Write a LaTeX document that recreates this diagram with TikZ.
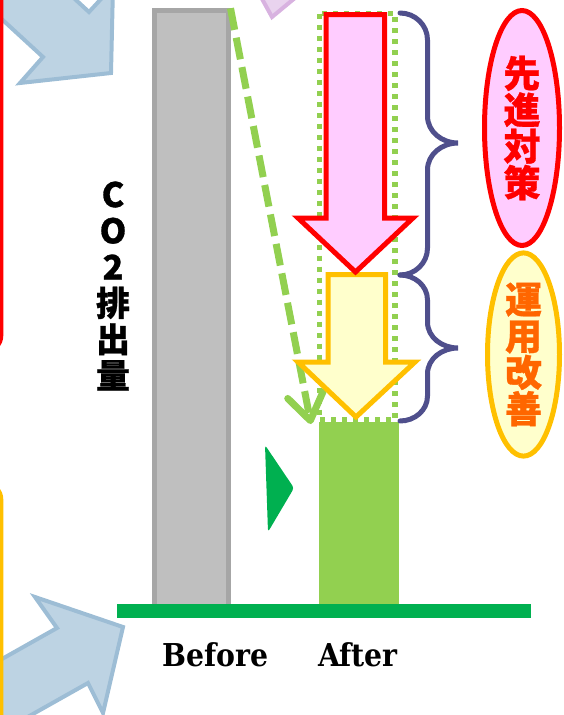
\documentclass[tikz,border=0pt]{standalone}
\usepackage{fontspec}
\newfontfamily\cjk{Noto Sans CJK JP}[FakeBold=0.8]
\newfontfamily\labelfont{DejaVu Serif Condensed}
\usetikzlibrary{arrows.meta,positioning,shapes.geometric}

\definecolor{framered}{HTML}{FF0000}
\definecolor{frameyellow}{HTML}{FFC000}
\definecolor{bluefill}{HTML}{BDD3E3}
\definecolor{blueline}{HTML}{9DBDD5}
\definecolor{lilacfill}{HTML}{E9D3EE}
\definecolor{lilacline}{HTML}{D8B2E0}
\definecolor{barfill}{HTML}{BFBFBF}
\definecolor{barline}{HTML}{A6A6A6}
\definecolor{basegreen}{HTML}{00B050}
\definecolor{lightgreen}{HTML}{92D050}
\definecolor{pinkfill}{HTML}{FFCCFF}
\definecolor{creamfill}{HTML}{FFFFCC}
\definecolor{bracecol}{HTML}{4F4F8C}
\definecolor{textorange}{HTML}{FF6600}

\begin{document}
\begin{tikzpicture}[x=1pt,y=-1pt,
  every node/.style={inner sep=0pt},
  blockarrow/.style={fill=bluefill, draw=blueline, line width=4pt},
  bigbrace/.style={draw=bracecol, line width=5pt, line cap=round},
  tagfont/.style={font=\cjk\bfseries\fontsize{37}{36.5}\selectfont, align=center}]
  \clip (0,0) rectangle (563,715);

  % arrows and frames cut off at the left
  \draw[blockarrow] (-31,-11) -- (43,57) -- (20,83) -- (111,73) -- (113,-14) -- (89,12) -- (15,-56) -- cycle;
  \draw[blockarrow] (-30,677) -- (57,628) -- (35,597) -- (123,627) -- (103,713) -- (88,683) -- (1,732) -- cycle;
  \draw[fill=lilacfill, draw=lilacline, line width=4pt] (256,-12) -- (272,17) -- (307,-12);
  \draw[framered, line width=3.5pt, rounded corners=15pt] (-60,-30) rectangle (1.5,351);
  \draw[frameyellow, line width=3.5pt, rounded corners=15pt] (-60,484) rectangle (1.5,780);

  % bars
  \node[draw=barline, fill=barfill, line width=4.5pt, minimum width=74pt, minimum height=601pt] (before bar) at (191.25,311) {};
  \node[fill=lightgreen, minimum width=80pt, minimum height=190pt] (after bar) at (358.5,517) {};
  \draw[lightgreen, line width=5.5pt, dash pattern=on 5pt off 6pt] (319.5,13.5) rectangle (395,420);

  \coordinate (target) at (311,424);
  \draw[lightgreen, line width=7pt, dash pattern=on 22pt off 8pt, -{Straight Barb[length=26pt,width=36pt,round]}] (before bar.north east) -- (target);

  % reduction arrows
  \draw[frameyellow, fill=creamfill, line width=5pt] (328,274.5) -- (385.5,274.5) -- (385.5,362) -- (415,362) -- (356,417) -- (298,362) -- (328,362) -- cycle;
  \draw[framered, fill=pinkfill, line width=5pt] (326,14.5) -- (384.5,14.5) -- (384.5,218) -- (413,218) -- (355.5,272) -- (298,218) -- (326,218) -- cycle;

  % braces
  \draw[bigbrace] (400,13) to[out=0,in=90] (427.5,40) -- (427.5,116) to[out=-90,in=180] (458,143) to[out=180,in=90] (427.5,170) -- (427.5,248) to[out=-90,in=0] (400,275);
  \draw[bigbrace] (400,275) to[out=0,in=90] (427.5,300) -- (427.5,322) to[out=-90,in=180] (458,348) to[out=180,in=90] (427.5,374) -- (427.5,396) to[out=-90,in=0] (400,421);

  \node[ellipse, draw=framered, fill=pinkfill, line width=5pt, minimum width=75pt, minimum height=235pt, tagfont, text=framered] (advanced) at (522,128) {先\\進\\対\\策};
  \node[ellipse, draw=frameyellow, fill=creamfill, line width=5pt, minimum width=72pt, minimum height=180pt, tagfont, text=textorange] (operation) at (523.5,354.5) {運\\用\\改\\善};

  \node[font=\cjk\bfseries\fontsize{34}{36.2}\selectfont, align=center] (co2) at (113,286) {C\\O\\2\\排\\出\\量};

  % base line and labels
  \fill[basegreen] (117,604) rectangle (531,618);
  \fill[basegreen, rounded corners=3pt] (265,445) -- (294,488) -- (268,532) -- cycle;
  \node[anchor=base, font=\labelfont\bfseries\fontsize{31.5}{36}\selectfont] (before) at (215.5,666) {Before};
  \node[anchor=base, font=\labelfont\bfseries\fontsize{31.5}{36}\selectfont] (after) at (358,666) {After};
\end{tikzpicture}
\end{document}
